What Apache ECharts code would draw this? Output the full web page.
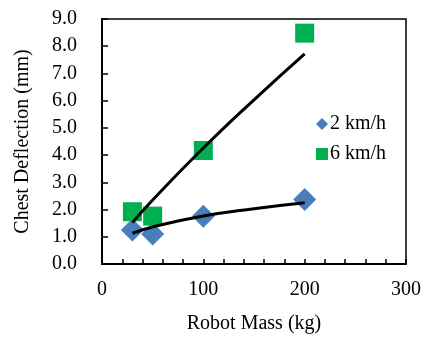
<!DOCTYPE html>
<html>
<head>
<meta charset="utf-8">
<script src="https://cdn.jsdelivr.net/npm/echarts@6/dist/echarts.min.js"></script>
<style>
html, body { margin: 0; padding: 0; background: #fff; }
#container { width: 424px; height: 339px; }
</style>
</head>
<body>
<div id="container"></div>
<script>
var dom = document.getElementById("container");
var myChart = echarts.init(dom);

// measured points
var mass = [30, 50, 100, 200];
var slow = [1.25, 1.1, 1.75, 2.37];   // 2 km/h
var fast = [1.92, 1.76, 4.17, 8.48];  // 6 km/h

// trend lines
var trendX = [30, 50, 100, 150, 200];
var trendSlow = [1.13, 1.36, 1.76, 2.03, 2.25];
var trendFast = [1.52, 2.35, 4.26, 6.03, 7.72];

var names = ['2 km/h', '6 km/h'];

function pairs(xs, ys) {
    return xs.map(function (x, i) { return [x, ys[i]]; });
}

var font = '"Liberation Serif", "Times New Roman", serif';

option = {
    animation: false,
    textStyle: { fontFamily: font },
    legend: {
        orient: 'vertical',
        left: 311,
        top: 109,
        itemWidth: 12,
        itemHeight: 12,
        itemGap: 10,
        itemStyle: { borderWidth: 0 },
        textStyle: { color: '#000', fontSize: 20, fontFamily: font, padding: [0, 0, 0, -3] },
        data: [
            { name: names[0], icon: 'diamond' },
            { name: names[1], icon: 'rect' }
        ]
    },
    grid: {
        left: 102, right: 16, top: 19, bottom: 71,
        show: true, borderColor: '#000', borderWidth: 1.5
    },
    xAxis: {
        type: 'value',
        min: 0, max: 300, interval: 100,
        name: 'Robot Mass (kg)',
        nameLocation: 'middle',
        nameGap: 50,
        nameTextStyle: { color: '#000', fontSize: 20, fontFamily: font },
        axisLine: { show: true, lineStyle: { color: '#000', width: 2 } },
        axisTick: { show: true, inside: true, length: 5, lineStyle: { color: '#000', width: 1.5 } },
        minorTick: { show: true, splitNumber: 5, length: 5, lineStyle: { color: '#000', width: 1.5 } },
        axisLabel: { color: '#000', fontSize: 20, margin: 16, fontFamily: font },
        splitLine: { show: false }
    },
    yAxis: {
        type: 'value',
        min: 0, max: 9, interval: 1,
        name: 'Chest Deflection (mm)',
        nameLocation: 'middle',
        nameGap: 69,
        nameTextStyle: { color: '#000', fontSize: 20, fontFamily: font },
        axisLine: { show: true, lineStyle: { color: '#000', width: 2 } },
        axisTick: { show: true, inside: true, length: 6, lineStyle: { color: '#000', width: 1.5 } },
        axisLabel: {
            color: '#000', fontSize: 20, margin: 25, fontFamily: font,
            formatter: function (v) { return v.toFixed(1); }
        },
        splitLine: { show: false }
    },
    series: [
        {
            name: names[0],
            type: 'scatter',
            symbol: 'diamond',
            symbolSize: 23,
            itemStyle: { color: '#4a7ebb', opacity: 1 },
            data: pairs(mass, slow),
            z: 2
        },
        {
            name: names[1],
            type: 'scatter',
            symbol: 'rect',
            symbolSize: 19,
            itemStyle: { color: '#00b050', opacity: 1 },
            data: pairs(mass, fast),
            z: 2
        },
        {
            name: 'trend slow',
            type: 'line',
            smooth: true,
            showSymbol: false,
            lineStyle: { color: '#000', width: 3 },
            data: pairs(trendX, trendSlow),
            z: 3
        },
        {
            name: 'trend fast',
            type: 'line',
            smooth: true,
            showSymbol: false,
            lineStyle: { color: '#000', width: 3 },
            data: pairs(trendX, trendFast),
            z: 3
        }
    ]
};

if (option && typeof option === "object") {
    myChart.setOption(option, true);
}
</script>
</body>
</html>
